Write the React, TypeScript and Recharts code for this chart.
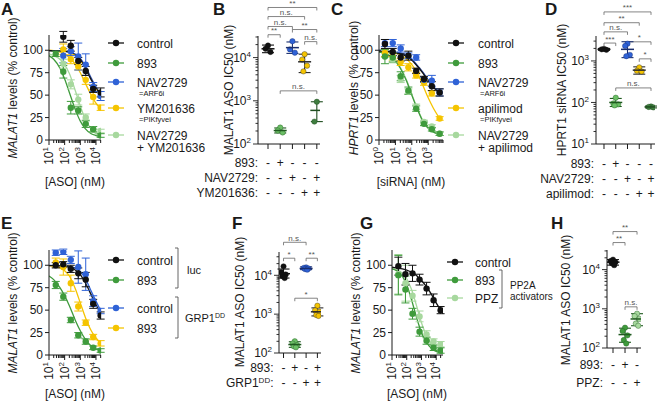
import React from 'react';
import { ComposedChart, Line, Scatter, XAxis, YAxis, ErrorBar, ReferenceLine } from 'recharts';

const FONT = '"Liberation Sans", Arial, Helvetica, sans-serif';
const INK = '#1a1a1a';
const AXIS = '#1a1a1a';
const BLACK = '#111111';
const GREEN = '#3f9b3c';
const BLUE = '#2f62d6';
const YELLOW = '#f5c400';
const LIGHT = '#a7d89e';
const MIDGREEN = '#6cbf66';
const DARKGREEN = '#3f7d3f';

// ---------- A: MALAT1 ASO dose response ----------
const asoDoses = [27, 82, 247, 741, 2222, 6667, 20000];
const aControl = [null, 115, 105, 88, 77, 57, 53];
const aControlErr = [0, 6, 6, 4, 5, 4, 5];
const a893 = [96, 76, 36, 33, 18, 12, 5];
const a893Err = [3, 7, 7, 4, 4, 3, 2];
const aNav = [null, 94, 99, 93, 84, 59, 49];
const aNavErr = [0, 8, 5, 15, 12, 5, 5];
const aYm = [null, 101, 90, 82, 67, 48, 36];
const aYmErr = [0, 6, 5, 4, 5, 8, 3];
const aCombo = [null, 85, 62, 45, 25, 12, 10];
const aComboErr = [0, 5, 5, 6, 4, 3, 2];
const asoFitX = [10, 20, 50, 100, 200, 500, 1000, 2000, 5000, 10000, 22000];
const aControlFit = [99.5, 99.4, 99.2, 98.8, 97.8, 94.5, 89.5, 81, 67, 58, 49];
const aNavFit = [99.6, 99.5, 99.3, 99, 98.2, 95.5, 91, 83, 69, 59, 50];
const aYmFit = [100, 99.5, 98, 96, 92, 84, 75, 64, 50, 41, 34];
const a893Fit = [94, 90, 80, 68, 53, 33, 21, 13, 7, 5, 3.5];
const aComboFit = [96, 94, 90, 84, 74, 54, 38, 24, 12, 7, 4];

// ---------- C: HPRT1 siRNA dose response ----------
const sirnaDoses = [2.3, 6.9, 21, 62, 185, 556, 1667, 5000];
const cControl = [107, 98, 92, 94, 77, 68, 60, 53];
const cControlErr = [5, 4, 4, 5, 3, 3, 5, 4];
const c893 = [93, 92, 71, 55, 35, 18, 12, 7];
const c893Err = [8, 5, 5, 4, 3, 2, 2, 2];
const cNav = [108, 108, 102, 94, 92, 67, 66, 53];
const cNavErr = [4, 4, 4, 3, 3, 3, 6, 4];
const cApi = [97, 93, 87, 81, 72, 64, 52, 24];
const cApiErr = [4, 4, 4, 4, 3, 3, 3, 2];
const cCombo = [96, 90, 68, 54, 37, 20, 15, 7];
const cComboErr = [4, 4, 4, 3, 3, 2, 2, 2];
const sirnaFitX = [1, 2, 5, 10, 20, 50, 100, 200, 500, 1000, 2000, 5000];
const cControlFit = [99, 99, 98, 97, 96, 93, 89, 83, 74, 66, 59, 52];
const cNavFit = [100, 100, 99, 98, 97, 94, 90, 84, 75, 67, 60, 53];
const cApiFit = [99, 99, 98, 97, 95, 90, 84, 76, 60, 47, 36, 24];
const c893Fit = [98, 97, 93, 88, 80, 65, 50, 36, 20, 13, 9, 6];
const cComboFit = [98, 97, 94, 89, 81, 66, 51, 37, 21, 14, 9, 6];

// ---------- E: GRP1DD ----------
const eLucControl = [100, 101, 96, 91, 84, 57, 44];
const eLucControlErr = [3, 3, 4, 6, 8, 5, 4];
const eLuc893 = [78, 65, 39, 22, 15, 8, 5];
const eLuc893Err = [4, 4, 3, 3, 3, 2, 2];
const eGrpControl = [114, 115, 106, 98, 90, 60, 49];
const eGrpControlErr = [3, 3, 4, 18, 18, 6, 3];
const eGrp893 = [103, 98, 80, 54, 36, 20, 13];
const eGrp893Err = [5, 9, 9, 5, 3, 3, 3];
const eLucControlFit = [99.7, 99.6, 99.3, 98.8, 97.8, 94.5, 89.5, 81, 67, 56, 45];
const eGrpControlFit = [99.8, 99.7, 99.5, 99.2, 98.5, 96.5, 93, 86, 71, 60, 48];
const eGrp893Fit = [99.5, 99, 97, 94, 88, 73, 58, 43, 27, 19, 13];
const eLuc893Fit = [88, 84, 75, 66, 55, 38, 27, 18, 10, 7, 4.5];

// ---------- G: PP2A activators ----------
const gControl = [99, 90, 91, 84, 74, 61, 50];
const gControlErr = [10, 12, 9, 6, 7, 7, 4];
const g893 = [89, 73, 46, 26, 16, 8, 5];
const g893Err = [22, 15, 6, 5, 4, 3, 3];
const gPpz = [90, 80, 66, 43, 23, 15, 12];
const gPpzErr = [22, 20, 6, 6, 4, 3, 3];
const gFitX = [10, 20, 50, 100, 200, 500, 1000, 2000, 5000, 10000, 29000];
const gControlFit = [98, 97, 96, 94.5, 92.5, 88, 83, 77, 67, 58, 46];
const g893Fit = [96, 94, 88, 78, 63, 40, 25, 15, 7, 4, 2];
const gPpzFit = [97, 95, 91, 85, 74, 53, 36, 23, 12, 7, 4];

// ---------- IC50 scatter panels ----------
const bReps = [[19000, 16000, 13500], [240, 205, 185], [24000, 15500, 13000], [12000, 9000, 6500, 4800], [950, 330]];
const bMean = [16000, 205, 17000, 8000, 600];
const bLow = [13000, 180, 12500, 4500, 330];
const bHigh = [19500, 235, 23000, 12000, 950];

const dReps = [[1950, 1900, 1850], [130, 95, 90, 85], [2600, 2300, 1400, 1300], [700, 580, 560], [80, 78, 76]];
const dMean = [1900, 100, 1900, 600, 78];
const dLow = [1800, 80, 1200, 480, 74];
const dHigh = [2000, 125, 2900, 720, 82];

const fReps = [[17000, 12000, 10500, 9500, 8500], [200, 175, 160, 150, 140], [16000, 15500, 15000, 14500, 14000], [1650, 1250, 1150, 950, 900]];
const fMean = [11000, 165, 15000, 1150];
const fLow = [8500, 140, 14000, 900];
const fHigh = [14500, 195, 16500, 1450];

const hReps = [[18000, 16500, 15500, 14500, 13000], [330, 270, 210, 160, 130], [750, 650, 550, 420, 370]];
const hMean = [15500, 220, 550];
const hLow = [13000, 140, 370];
const hHigh = [18000, 320, 750];

// treatment tables under the scatter panels
const bRows = [
  { label: '893:', signs: ['-', '+', '-', '-', '-'] },
  { label: 'NAV2729:', signs: ['-', '-', '+', '-', '+'] },
  { label: 'YM201636:', signs: ['-', '-', '-', '+', '+'] },
];
const dRows = [
  { label: '893:', signs: ['-', '+', '-', '-', '-'] },
  { label: 'NAV2729:', signs: ['-', '-', '+', '-', '+'] },
  { label: 'apilimod:', signs: ['-', '-', '-', '+', '+'] },
];
const fRows = [
  { label: '893:', signs: ['-', '+', '-', '+'] },
  { label: 'GRP1', sup: 'DD', signs: ['-', '-', '+', '+'] },
];
const hRows = [
  { label: '893:', signs: ['-', '+', '-'] },
  { label: 'PPZ:', signs: ['-', '-', '+'] },
];

// significance brackets: [from, to, level (log10 nM), label]
const bBrackets: [number, number, number, string][] = [
  [1, 5, 5.16, '**'], [1, 4, 4.95, 'n.s.'], [1, 3, 4.72, 'n.s.'], [3, 5, 4.65, '**'],
  [1, 2, 4.53, '**'], [4, 5, 4.37, 'n.s.'], [2, 5, 3.23, 'n.s.'],
];
const dBrackets: [number, number, number, string][] = [
  [1, 5, 4.18, '***'], [1, 4, 3.92, '**'], [1, 3, 3.7, 'n.s.'], [1, 2, 3.43, '***'],
  [3, 5, 3.46, '*'], [4, 5, 3.05, '*'], [2, 5, 2.35, 'n.s.'],
];
const fBrackets: [number, number, number, string][] = [
  [1, 3, 4.85, 'n.s.'], [1, 2, 4.44, '*'], [3, 4, 4.44, '**'], [2, 4, 3.41, '*'],
];
const hBrackets: [number, number, number, string][] = [
  [1, 3, 4.97, '**'], [1, 2, 4.69, '**'], [2, 3, 3.05, 'n.s.'],
];

const JITTER = [0, -0.2, 0.2, -0.1, 0.1];

const logTicks = (min: number, max: number) => {
  const out: number[] = [];
  for (let d = Math.pow(10, Math.floor(Math.log10(min))); d <= max; d *= 10) {
    for (let k = 1; k < 10; k++) {
      const v = Math.round(k * d * 1000) / 1000;
      if (v >= min && v <= max) out.push(v);
    }
  }
  return out;
};

const isMajor = (v: number) => {
  const e = Math.log10(v);
  return Math.abs(e - Math.round(e)) < 1e-6;
};

const pts = (doses: number[], vals: (number | null)[], errs: number[]) =>
  doses.map((x, i) => ({ x, y: vals[i], e: errs[i] })).filter((p) => p.y !== null);
const fit = (xs: number[], ys: number[]) => xs.map((x, i) => ({ x, y: ys[i] }));

const LogXTick = (props: any) => {
  const { x, y, payload } = props;
  const major = isMajor(payload.value);
  return (
    <g>
      <line x1={x} x2={x} y1={y} y2={y + (major ? 5 : 3)} stroke={AXIS} strokeWidth={1} />
      {major && (
        <text transform={`translate(${x},${y + 7}) rotate(-90)`} textAnchor="end" dy="0.35em"
          fontSize={12} fontFamily={FONT} fill={INK}>
          10<tspan dy={-5} fontSize={8}>{Math.round(Math.log10(payload.value))}</tspan>
        </text>
      )}
    </g>
  );
};

const PctTick = (props: any) => {
  const { x, y, payload } = props;
  return (
    <g>
      <line x1={x - 4} x2={x} y1={y} y2={y} stroke={AXIS} strokeWidth={1} />
      <text x={x - 6} y={y} dy="0.35em" textAnchor="end" fontSize={12} fontFamily={FONT} fill={INK}>
        {payload.value}
      </text>
    </g>
  );
};

const LogYTick = (props: any) => {
  const { x, y, payload } = props;
  const major = isMajor(payload.value);
  return (
    <g>
      <line x1={x - (major ? 5 : 2.5)} x2={x} y1={y} y2={y} stroke={AXIS} strokeWidth={0.9} />
      {major && (
        <text x={x - 7} y={y} dy="0.35em" textAnchor="end" fontSize={12} fontFamily={FONT} fill={INK}>
          10<tspan dy={-5} fontSize={8}>{Math.round(Math.log10(payload.value))}</tspan>
        </text>
      )}
    </g>
  );
};

const makeCatTick = (rows: any[], offsets: number[]) => (props: any) => {
  const { x, y, payload } = props;
  const i = payload.value - 1;
  return (
    <g fontFamily={FONT} fontSize={12} fill={INK}>
      <line x1={x} x2={x} y1={y} y2={y + 5} stroke={AXIS} strokeWidth={1} />
      {rows.map((r, k) => (
        <text key={k} x={x} y={y + offsets[k]} dy="0.35em" textAnchor="middle">{r.signs[i]}</text>
      ))}
      {i === 0 && rows.map((r, k) => (
        <text key={'l' + k} x={x - 10} y={y + offsets[k]} dy="0.35em" textAnchor="end">
          {r.label}
          {r.sup && <tspan dy={-4} fontSize={8}>{r.sup}</tspan>}
          {r.sup && <tspan dy={4}>:</tspan>}
        </text>
      ))}
    </g>
  );
};

const bracketShape = (p: any) => {
  const { x1, y1, x2, y2 } = p;
  return <path d={`M${x1},${y1 + 3}V${y1}H${x2}V${y2 + 3}`} stroke="#666" strokeWidth={0.8} fill="none" />;
};

type DoseSeries = { key: string; color: string; curveColor: string; data: any[]; fit: any[] };

function DoseChart({ left, top, width, right, domain, series }: {
  left: number; top: number; width: number; right: number; domain: [number, number]; series: DoseSeries[];
}) {
  return (
    <div style={{ position: 'absolute', left, top }}>
      <ComposedChart width={width} height={175} margin={{ top: 35, right, bottom: 0, left: 0 }}>
        <XAxis type="number" dataKey="x" scale="log" domain={domain} allowDataOverflow
          ticks={logTicks(domain[0], domain[1])} interval={0} tick={LogXTick} tickLine={false}
          tickSize={0} tickMargin={0} height={35} stroke={AXIS} />
        <YAxis type="number" dataKey="y" domain={[0, 117]} allowDataOverflow ticks={[0, 25, 50, 75, 100]}
          interval={0} tick={PctTick} tickLine={false} tickSize={0} tickMargin={0} width={49} stroke={AXIS} />
        {series.map((s) => (
          <Line key={'f' + s.key} data={s.fit} dataKey="y" type="monotone" dot={false} stroke={s.curveColor}
            strokeWidth={1.3} isAnimationActive={false} />
        ))}
        {series.map((s) => (
          <Scatter key={'p' + s.key} data={s.data} fill={s.color} isAnimationActive={false}
            shape={(p: any) => <circle cx={p.cx} cy={p.cy} r={3.2} fill={s.color} />}>
            <ErrorBar dataKey="e" direction="y" width={4} stroke={s.color} strokeWidth={1} />
          </Scatter>
        ))}
      </ComposedChart>
    </div>
  );
}

type Group = { color: string; line: string; reps: number[]; mean: number; lo: number; hi: number };

const PAD = 70; // room left of the axis for the treatment table labels

function Ic50Chart({ plotLeft, plotWidth, top, height, marginTop, axisHeight, xDomain, yDomain, groups, rows, offsets, brackets }: {
  plotLeft: number; plotWidth: number; top: number; height: number; marginTop: number; axisHeight: number;
  xDomain: [number, number]; yDomain: [number, number]; groups: Group[]; rows: any[]; offsets: number[];
  brackets: [number, number, number, string][];
}) {
  const right = 14;
  const width = PAD + 45 + plotWidth + right;
  return (
    <div style={{ position: 'absolute', left: plotLeft - 45 - PAD, top }}>
      <ComposedChart width={width} height={height} margin={{ top: marginTop, right, bottom: 0, left: PAD }}>
        <XAxis type="number" dataKey="x" domain={xDomain} allowDataOverflow ticks={groups.map((_, i) => i + 1)}
          interval={0} tick={makeCatTick(rows, offsets)} tickLine={false} tickSize={0} tickMargin={0}
          height={axisHeight} stroke={AXIS} />
        <YAxis type="number" dataKey="y" scale="log" domain={yDomain} allowDataOverflow
          ticks={logTicks(yDomain[0], yDomain[1])} interval={0} tick={LogYTick} tickLine={false}
          tickSize={0} tickMargin={0} width={45} stroke={AXIS} />
        {brackets.map(([a, b, lvl, label], k) => (
          <ReferenceLine key={'br' + k} ifOverflow="visible"
            segment={[{ x: a, y: Math.pow(10, lvl) }, { x: b, y: Math.pow(10, lvl) }]}
            shape={bracketShape}
            label={{ value: label, position: 'top', offset: 1.5, fontSize: 8, fill: '#555', fontFamily: FONT }} />
        ))}
        {groups.map((g, i) => (
          <Scatter key={'r' + i} isAnimationActive={false} fill={g.color}
            data={g.reps.map((v, j) => ({ x: i + 1 + JITTER[j % JITTER.length], y: v }))}
            shape={(p: any) => <circle cx={p.cx} cy={p.cy} r={2.7} fill={g.color} stroke={g.line} strokeWidth={0.4} />} />
        ))}
        {groups.map((g, i) => (
          <Scatter key={'m' + i} isAnimationActive={false} fill={g.line}
            data={[{ x: i + 1, y: g.mean, err: [g.mean - g.lo, g.hi - g.mean] }]}
            shape={(p: any) => <line x1={p.cx - 6.5} x2={p.cx + 6.5} y1={p.cy} y2={p.cy} stroke={g.line} strokeWidth={1.5} />}>
            <ErrorBar dataKey="err" direction="y" width={6} stroke={g.line} strokeWidth={1.1} />
          </Scatter>
        ))}
      </ComposedChart>
    </div>
  );
}

const groupsOf = (reps: number[][], mean: number[], lo: number[], hi: number[], colors: string[], lines: string[]): Group[] =>
  reps.map((r, i) => ({ reps: r, mean: mean[i], lo: lo[i], hi: hi[i], color: colors[i], line: lines[i] }));

// ---------- overlay text ----------
function Legend({ lineX, textX, rows }: { lineX: number; textX: number; rows: any[] }) {
  return (
    <g>
      {rows.map((r, i) => (
        <g key={i}>
          <line x1={lineX} x2={lineX + 16} y1={r.y} y2={r.y} stroke={r.color} strokeWidth={1.3} />
          <circle cx={lineX + 8} cy={r.y} r={3.2} fill={r.color} />
          <text x={textX} y={r.y + 4.5} fontSize={12} fill={INK}>{r.label}</text>
          {r.sub && <text x={textX + 2} y={r.y + 13.5} fontSize={7.5} fill={INK}>{r.sub}</text>}
          {r.line2 && <text x={textX} y={r.y + 17} fontSize={12} fill={INK}>{r.line2}</text>}
        </g>
      ))}
    </g>
  );
}

const YTitle = ({ x, y, italic, rest }: { x: number; y: number; italic?: string; rest: string }) => (
  <text transform={`translate(${x},${y}) rotate(-90)`} textAnchor="middle" dy="0.35em" fontSize={12} fill={INK}>
    {italic && <tspan fontStyle="italic">{italic}</tspan>}{rest}
  </text>
);

const Letter = ({ x, y, t }: { x: number; y: number; t: string }) => (
  <text x={x} y={y} fontSize={17} fontWeight="bold" fill={INK}>{t}</text>
);

const SideBracket = ({ x, y1, y2 }: { x: number; y1: number; y2: number }) => (
  <path d={`M${x - 3},${y1}H${x}V${y2}H${x - 3}`} stroke="#555" strokeWidth={0.9} fill="none" />
);

export default function App() {
  const panelA: DoseSeries[] = [
    { key: 'combo', color: LIGHT, curveColor: LIGHT, data: pts(asoDoses, aCombo, aComboErr), fit: fit(asoFitX, aComboFit) },
    { key: 'ym', color: YELLOW, curveColor: YELLOW, data: pts(asoDoses, aYm, aYmErr), fit: fit(asoFitX, aYmFit) },
    { key: '893', color: GREEN, curveColor: GREEN, data: pts(asoDoses, a893, a893Err), fit: fit(asoFitX, a893Fit) },
    { key: 'nav', color: BLUE, curveColor: '#2d4fb0', data: pts(asoDoses, aNav, aNavErr), fit: fit(asoFitX, aNavFit) },
    { key: 'ctrl', color: BLACK, curveColor: BLACK, data: pts(asoDoses, aControl, aControlErr), fit: fit(asoFitX, aControlFit) },
  ];
  const panelC: DoseSeries[] = [
    { key: 'combo', color: LIGHT, curveColor: LIGHT, data: pts(sirnaDoses, cCombo, cComboErr), fit: fit(sirnaFitX, cComboFit) },
    { key: 'api', color: YELLOW, curveColor: YELLOW, data: pts(sirnaDoses, cApi, cApiErr), fit: fit(sirnaFitX, cApiFit) },
    { key: '893', color: GREEN, curveColor: GREEN, data: pts(sirnaDoses, c893, c893Err), fit: fit(sirnaFitX, c893Fit) },
    { key: 'nav', color: BLUE, curveColor: '#2d4fb0', data: pts(sirnaDoses, cNav, cNavErr), fit: fit(sirnaFitX, cNavFit) },
    { key: 'ctrl', color: BLACK, curveColor: BLACK, data: pts(sirnaDoses, cControl, cControlErr), fit: fit(sirnaFitX, cControlFit) },
  ];
  const panelE: DoseSeries[] = [
    { key: 'g893', color: YELLOW, curveColor: YELLOW, data: pts(asoDoses, eGrp893, eGrp893Err), fit: fit(asoFitX, eGrp893Fit) },
    { key: 'l893', color: GREEN, curveColor: GREEN, data: pts(asoDoses, eLuc893, eLuc893Err), fit: fit(asoFitX, eLuc893Fit) },
    { key: 'gctrl', color: BLUE, curveColor: BLUE, data: pts(asoDoses, eGrpControl, eGrpControlErr), fit: fit(asoFitX, eGrpControlFit) },
    { key: 'lctrl', color: BLACK, curveColor: BLACK, data: pts(asoDoses, eLucControl, eLucControlErr), fit: fit(asoFitX, eLucControlFit) },
  ];
  const panelG: DoseSeries[] = [
    { key: 'ppz', color: LIGHT, curveColor: LIGHT, data: pts(asoDoses, gPpz, gPpzErr), fit: fit(gFitX, gPpzFit) },
    { key: '893', color: GREEN, curveColor: GREEN, data: pts(asoDoses, g893, g893Err), fit: fit(gFitX, g893Fit) },
    { key: 'ctrl', color: BLACK, curveColor: BLACK, data: pts(asoDoses, gControl, gControlErr), fit: fit(gFitX, gControlFit) },
  ];

  const lines5 = ['#111111', '#1f5a1f', '#1a2e6e', '#2a2a2a', '#1f4d1f'];
  const bGroups = groupsOf(bReps, bMean, bLow, bHigh, [BLACK, MIDGREEN, BLUE, YELLOW, DARKGREEN], lines5);
  const dGroups = groupsOf(dReps, dMean, dLow, dHigh, [BLACK, MIDGREEN, BLUE, YELLOW, DARKGREEN], lines5);
  const fGroups = groupsOf(fReps, fMean, fLow, fHigh, [BLACK, MIDGREEN, BLUE, YELLOW], lines5);
  const hGroups = groupsOf(hReps, hMean, hLow, hHigh, [BLACK, GREEN, LIGHT], ['#111111', '#1f5a1f', '#1f5a1f']);

  return (
    <div style={{ position: 'absolute', left: 0, top: 0, width: 662, height: 401, background: '#fff', overflow: 'hidden', fontFamily: FONT }}>
      <DoseChart left={0} top={0} width={110} right={9} domain={[10, 21000]} series={panelA} />
      <DoseChart left={330} top={0} width={120} right={7} domain={[1, 8000]} series={panelC} />
      <DoseChart left={0} top={215} width={110} right={9} domain={[10, 21000]} series={panelE} />
      <DoseChart left={343} top={215} width={110} right={10} domain={[10, 29000]} series={panelG} />

      <Ic50Chart plotLeft={258} plotWidth={62} top={0} height={200} marginTop={36} axisHeight={56}
        xDomain={[0.18, 5.26]} yDomain={[100, 31623]} groups={bGroups} rows={bRows} offsets={[19, 34, 49]} brackets={bBrackets} />
      <Ic50Chart plotLeft={596} plotWidth={59} top={0} height={200} marginTop={36} axisHeight={56}
        xDomain={[0.32, 5.34]} yDomain={[10, 3981]} groups={dGroups} rows={dRows} offsets={[20, 35, 50]} brackets={dBrackets} />
      <Ic50Chart plotLeft={279} plotWidth={42} top={200} height={201} marginTop={52} axisHeight={48}
        xDomain={[0.6, 4.32]} yDomain={[100, 39810]} groups={fGroups} rows={fRows} offsets={[15, 30]} brackets={fBrackets} />
      <Ic50Chart plotLeft={607} plotWidth={34} top={200} height={201} marginTop={50} axisHeight={53}
        xDomain={[0.5, 3.33]} yDomain={[100, 31623]} groups={hGroups} rows={hRows} offsets={[17, 35]} brackets={hBrackets} />

      <svg width={662} height={401} style={{ position: 'absolute', left: 0, top: 0, pointerEvents: 'none' }} fontFamily={FONT}>
        <Letter x={1} y={15} t="A" />
        <Letter x={213} y={15} t="B" />
        <Letter x={331} y={15} t="C" />
        <Letter x={545} y={15} t="D" />
        <Letter x={1} y={229} t="E" />
        <Letter x={232} y={229} t="F" />
        <Letter x={360} y={229} t="G" />
        <Letter x={551} y={229} t="H" />

        <YTitle x={13} y={88} italic="MALAT1" rest=" levels (% control)" />
        <YTitle x={354} y={88} italic="HPRT1" rest=" levels (% control)" />
        <YTitle x={13} y={303} italic="MALAT1" rest=" levels (% control)" />
        <YTitle x={356} y={303} italic="MALAT1" rest=" levels (% control)" />
        <YTitle x={229} y={90} rest="MALAT1 ASO IC50 (nM)" />
        <YTitle x={562} y={90} rest="HPRT1 siRNA IC50 (nM)" />
        <YTitle x={240} y={302} rest="MALAT1 ASO IC50 (nM)" />
        <YTitle x={566} y={300} rest="MALAT1 ASO IC50 (nM)" />

        <text x={75} y={186} textAnchor="middle" fontSize={12} fill={INK}>[ASO] (nM)</text>
        <text x={411} y={186} textAnchor="middle" fontSize={12} fill={INK}>[siRNA] (nM)</text>
        <text x={75} y={398} textAnchor="middle" fontSize={12} fill={INK}>[ASO] (nM)</text>
        <text x={417} y={398} textAnchor="middle" fontSize={12} fill={INK}>[ASO] (nM)</text>

        <Legend lineX={108} textX={137} rows={[
          { y: 43, color: BLACK, label: 'control' },
          { y: 63, color: GREEN, label: '893' },
          { y: 82, color: BLUE, label: 'NAV2729', sub: '=ARF6i' },
          { y: 108, color: YELLOW, label: 'YM201636', sub: '=PIKfyvei' },
          { y: 135, color: LIGHT, label: 'NAV2729', line2: '+ YM201636' },
        ]} />
        <Legend lineX={448} textX={478} rows={[
          { y: 43, color: BLACK, label: 'control' },
          { y: 63, color: GREEN, label: '893' },
          { y: 82, color: BLUE, label: 'NAV2729', sub: '=ARF6i' },
          { y: 108, color: YELLOW, label: 'apilimod', sub: '=PIKfyvei' },
          { y: 135, color: LIGHT, label: 'NAV2729', line2: '+ apilimod' },
        ]} />
        <Legend lineX={108} textX={137} rows={[
          { y: 260, color: BLACK, label: 'control' },
          { y: 280, color: GREEN, label: '893' },
          { y: 308, color: BLUE, label: 'control' },
          { y: 328, color: YELLOW, label: '893' },
        ]} />
        <Legend lineX={447} textX={475} rows={[
          { y: 262, color: BLACK, label: 'control' },
          { y: 280, color: GREEN, label: '893' },
          { y: 298, color: LIGHT, label: 'PPZ' },
        ]} />

        <SideBracket x={178} y1={248} y2={288} />
        <text x={187} y={274} fontSize={11} fill={INK}>luc</text>
        <SideBracket x={178} y1={297} y2={338} />
        <text x={185} y={322} fontSize={11} fill={INK}>GRP1<tspan dy={-4} fontSize={7}>DD</tspan></text>
        <SideBracket x={502} y1={270} y2={308} />
        <text x={510} y={289} fontSize={10} fill={INK}>PP2A</text>
        <text x={510} y={300} fontSize={10} fill={INK}>activators</text>
      </svg>
    </div>
  );
}
